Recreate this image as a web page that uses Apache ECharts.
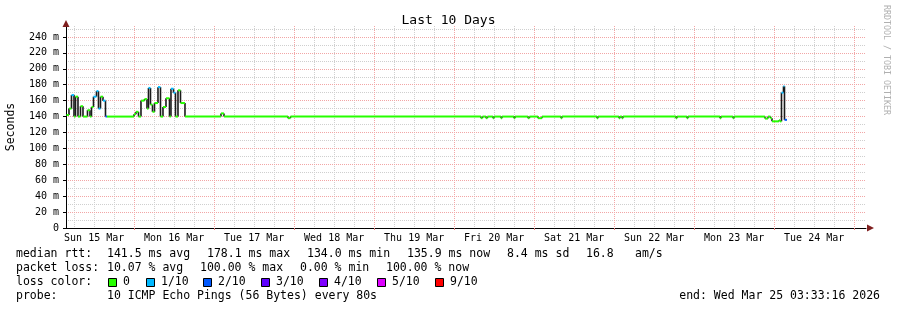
<!DOCTYPE html>
<html>
<head>
<meta charset="utf-8">
<script src="https://cdn.jsdelivr.net/npm/echarts@6/dist/echarts.min.js"></script>
<style>
html, body { margin: 0; padding: 0; background: #fff; }
#chart { width: 897px; height: 310px; }
</style>
</head>
<body>
<div id="chart"></div>
<script>
// time axis: hours since Sun 15 Mar 00:00
var startHour = 3.555;
var endHour = 243.555;
var dayStarts = [24, 48, 72, 96, 120, 144, 168, 192, 216, 240];
var dayLabelHours = [12, 36, 60, 84, 108, 132, 156, 180, 204, 228];
var dayLabels = ['Sun 15 Mar', 'Mon 16 Mar', 'Tue 17 Mar', 'Wed 18 Mar', 'Thu 19 Mar',
                 'Fri 20 Mar', 'Sat 21 Mar', 'Sun 22 Mar', 'Mon 23 Mar', 'Tue 24 Mar'];
var yMajor = [0, 20, 40, 60, 80, 100, 120, 140, 160, 180, 200, 220, 240];
var yMinor = [10, 30, 50, 70, 90, 110, 130, 150, 170, 190, 210, 230, 250];

// median rtt (ms) steps, and lost pings out of 10 for each step
var times = [3.7, 4.45, 5.2, 5.95, 6.4, 7.15, 7.9, 8.65, 10.0, 10.75, 11.2, 11.8, 12.7, 13.3, 13.9, 14.65, 15.4, 15.85,
             23.95, 24.55, 25.3, 26.05, 27.1, 27.85, 28.3, 28.9, 29.5, 30.1, 31.15, 31.9, 32.65, 33.55, 34.6, 35.05, 35.8, 36.4, 37.15, 37.9, 39.25,
             50.05, 50.95, 70.15, 70.9, 128.05, 128.5, 129.55, 130.0, 131.65, 131.95, 134.05, 134.35, 137.95, 138.25,
             142.15, 142.6, 145.15, 146.35, 152.05, 152.35, 162.85, 163.15, 169.45, 169.75, 170.35, 170.65,
             186.55, 186.85, 189.85, 190.15, 199.75, 200.05, 203.65, 203.95,
             213.25, 214.15, 214.9, 215.35, 217.45, 217.75, 218.2, 218.8, 219.1, 219.85];
var medians = [142, 150, 167, 140, 165, 140, 153, 140, 148, 140, 152, 165, 172, 150, 165, 160, 140, 140,
               143, 146, 140, 160, 162, 150, 176, 155, 146, 157, 177, 140, 152, 163, 140, 175, 170, 140, 173, 157, 140,
               144, 140, 138, 140, 138, 140, 138, 140, 138, 140, 138, 140, 138, 140,
               138, 140, 138, 140, 138, 140, 138, 140, 138, 140, 138, 140,
               138, 140, 138, 140, 138, 140, 138, 140,
               137.5, 140, 138, 134, 135.5, 134, 170, 178, 135.9, null];
var losses = [0, 0, 1, 0, 0, 0, 0, 0, 0, 0, 0, 1, 1, 1, 0, 1, 2, 0,
              0, 0, 0, 0, 0, 0, 1, 0, 0, 0, 1, 0, 0, 0, 0, 1, 1, 0, 0, 0, 0,
              0, 0, 0, 0, 0, 0, 0, 0, 0, 0, 0, 0, 0, 0,
              0, 0, 0, 0, 0, 0, 0, 0, 0, 0, 0, 0,
              0, 0, 0, 0, 0, 0, 0, 0,
              0, 0, 0, 0, 0, 0, 1, 1, 2, null];

var lossLevels = [0, 1, 2, 3, 4, 5, 9];
var lossLabels = ['0', '1/10', '2/10', '3/10', '4/10', '5/10', '9/10'];
var lossColors = ['#26ff00', '#00b8ff', '#0059ff', '#5e00ff', '#7e00ff', '#dd00ff', '#ff0000'];

var rttStats = ['141.5 ms avg', '178.1 ms max', '134.0 ms min', '135.9 ms now', '8.4 ms sd', '16.8', 'am/s'];
var lossStats = ['10.07 % avg', '100.00 % max', '0.00 % min', '100.00 % now'];
var probeText = '10 ICMP Echo Pings (56 Bytes) every 80s';
var endText = 'end: Wed Mar 25 03:33:16 2026';

var MONO = '"DejaVu Sans Mono", "Liberation Mono", monospace';
var majorGrid = '#f2a6a6';
var minorGrid = '#cfcfcf';

// minor (6 hour) grid lines
var minorHours = [6, 12, 18];
dayStarts.forEach(function (d) { minorHours.push(d + 6, d + 12, d + 18); });

// coloured step tops: [from, to, median, loss]
var segs = [];
// black risers where the median changes: [at, before, after]
var risers = [];
for (var i = 0; i < times.length - 1; i++) {
    if (medians[i] == null) continue;
    segs.push([times[i], times[i + 1], medians[i], losses[i]]);
    if (medians[i + 1] != null && medians[i + 1] !== medians[i]) {
        risers.push([times[i + 1], medians[i], medians[i + 1]]);
    }
}

function txt(x, y, s, extra) {
    var st = { text: s, x: 0, y: 0, font: '11.5px ' + MONO, fill: '#000', verticalAlign: 'middle', align: 'left' };
    if (extra) for (var k in extra) st[k] = extra[k];
    return { type: 'text', x: x, y: y, style: st, z: 10 };
}

var graphics = [];
// axis arrows
graphics.push({ type: 'polygon', shape: { points: [[62.5, 27], [69.5, 27], [66, 20]] }, style: { fill: '#7f1f1f' }, z: 10 });
graphics.push({ type: 'polygon', shape: { points: [[867, 224.5], [867, 231.5], [874, 228]] }, style: { fill: '#7f1f1f' }, z: 10 });
// watermark
graphics.push({ type: 'text', x: 886, y: 5, rotation: -Math.PI / 2,
    style: { text: 'RRDTOOL / TOBI OETIKER', font: '8.3px ' + MONO, fill: '#b0b0b0', verticalAlign: 'middle', align: 'left' } });
// legend lines
var rttX = [107, 207, 307, 407, 507, 586, 635];
graphics.push(txt(16, 254, 'median rtt:'));
rttStats.forEach(function (s, i) { graphics.push(txt(rttX[i], 254, s)); });
var lossX = [107, 200, 300, 386];
graphics.push(txt(16, 268, 'packet loss:'));
lossStats.forEach(function (s, i) { graphics.push(txt(lossX[i], 268, s)); });
var boxX = [108, 146, 203, 261, 319, 377, 435];
graphics.push(txt(16, 282, 'loss color:'));
lossLabels.forEach(function (s, i) {
    graphics.push({ type: 'rect', shape: { x: boxX[i] + 0.5, y: 278.5, width: 8, height: 8 },
        style: { fill: lossColors[i], stroke: '#000', lineWidth: 1 }, z: 10 });
    graphics.push(txt(boxX[i] + 15, 282, s));
});
graphics.push(txt(16, 296, 'probe:'));
graphics.push(txt(107, 296, probeText));
graphics.push(txt(880, 296, endText, { align: 'right' }));

var chart = echarts.init(document.getElementById('chart'));
chart.setOption({
    backgroundColor: '#ffffff',
    animation: false,
    title: {
        text: 'Last 10 Days', left: 'center', top: 9,
        textStyle: { fontFamily: MONO, fontSize: 13, fontWeight: 'normal', color: '#000' }
    },
    grid: { left: 66, right: 31, top: 26, bottom: 82, containLabel: false, outerBoundsMode: 'none' },
    xAxis: [{
        type: 'value', min: startHour, max: endHour,
        axisLine: { show: true, lineStyle: { color: '#000', width: 1 } },
        axisTick: { show: true, customValues: dayStarts, length: 2, lineStyle: { color: '#e08080' } },
        axisLabel: {
            customValues: dayLabelHours, margin: 5, color: '#000', fontFamily: MONO, fontSize: 10,
            formatter: function (v) { return dayLabels[dayLabelHours.indexOf(Math.round(v))] || ''; }
        },
        splitLine: { show: true, lineStyle: { color: majorGrid, type: [1, 1], width: 1 } },
        z: 3
    }, {
        type: 'value', min: startHour, max: endHour, position: 'bottom',
        axisLine: { show: false },
        axisTick: { show: false, customValues: minorHours },
        axisLabel: { show: false },
        splitLine: { show: true, lineStyle: { color: minorGrid, type: [1, 1], width: 1 } },
        z: 1
    }],
    yAxis: [{
        type: 'value', min: 0, max: 253.8,
        name: 'Seconds', nameLocation: 'middle', nameGap: 49, nameRotate: 90,
        nameTextStyle: { fontFamily: MONO, fontSize: 11.5, color: '#000' },
        axisLine: { show: true, lineStyle: { color: '#000', width: 1 } },
        axisTick: { show: true, customValues: yMajor, length: 3, lineStyle: { color: '#000' } },
        axisLabel: {
            customValues: yMajor, margin: 7, color: '#000', fontFamily: MONO, fontSize: 10,
            formatter: function (v) { return v === 0 ? '0' : v + ' m'; }
        },
        splitLine: { show: true, lineStyle: { color: majorGrid, type: [1, 1], width: 1 } },
        z: 3
    }, {
        type: 'value', min: 0, max: 253.8, position: 'left',
        axisLine: { show: false },
        axisTick: { show: false, customValues: yMinor },
        axisLabel: { show: false },
        splitLine: { show: true, lineStyle: { color: minorGrid, type: [1, 1], width: 1 } },
        z: 1
    }],
    series: [{
        type: 'custom', data: risers, silent: true, z: 3, clip: true,
        encode: { x: 0, y: [1, 2] },
        renderItem: function (params, api) {
            var p0 = api.coord([api.value(0), api.value(1)]);
            var p1 = api.coord([api.value(0), api.value(2)]);
            return {
                type: 'line',
                shape: { x1: p0[0], y1: p0[1], x2: p1[0], y2: p1[1] },
                style: { stroke: '#1a1a1a', lineWidth: 1.6 }
            };
        }
    }, {
        type: 'custom', data: segs, silent: true, z: 4, clip: true,
        encode: { x: [0, 1], y: 2 },
        renderItem: function (params, api) {
            var y = api.value(2);
            var p0 = api.coord([api.value(0), y]);
            var p1 = api.coord([api.value(1), y]);
            var c = lossColors[lossLevels.indexOf(api.value(3))];
            return {
                type: 'line',
                shape: { x1: p0[0], y1: p0[1], x2: p1[0], y2: p1[1] },
                style: { stroke: c, lineWidth: 2, lineCap: 'butt' }
            };
        }
    }],
    graphic: graphics
});
</script>
</body>
</html>
